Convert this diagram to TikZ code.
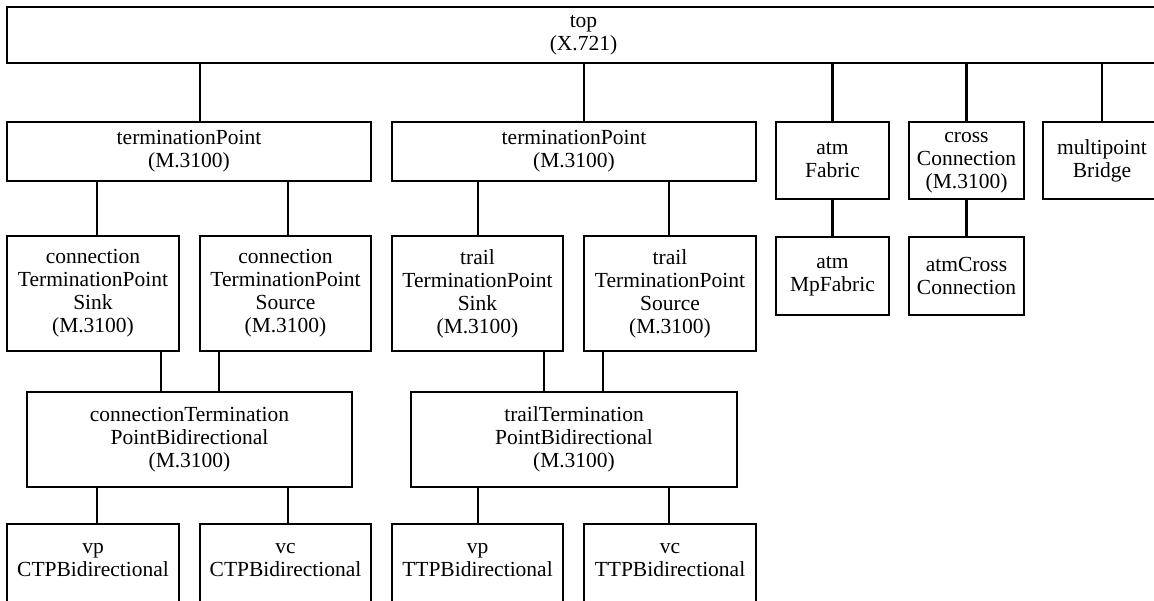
\documentclass[tikz,border=0pt]{standalone}
\usepackage{fontspec}
\setmainfont{Liberation Serif}
\begin{document}
\begin{tikzpicture}[x=1pt,y=-1pt,
  box/.style={draw=black, line width=2.9pt, rectangle, inner sep=0pt,
    align=center, font=\fontsize{21.5}{23}\selectfont},
  link/.style={draw=black, line width=2.9pt}]
\useasboundingbox (0,0) rectangle (1154,601);
\clip (0,0) rectangle (1154,601);

% root class
\node[box, minimum width=1153, minimum height=56] (top) at (583.5,35) {top\\(X.721)};

% second level
\node[box, minimum width=364, minimum height=59] (tpa) at (189,151.5) {terminationPoint\\(M.3100)};
\node[box, minimum width=364, minimum height=59] (tpb) at (574,151.5) {terminationPoint\\(M.3100)};
\node[box, minimum width=113, minimum height=77] (fab) at (832.5,160.5) {atm\\Fabric};
\node[box, minimum width=115, minimum height=77, label={[box,draw=none,yshift=-2pt]center:cross\\Connection\\(M.3100)}] (xc) at (966.5,160.5) {};
\node[box, minimum width=118, minimum height=77] (mpb) at (1102,160.5) {multipoint\\Bridge};

% third level
\node[box, minimum width=172, minimum height=115] (ctpk) at (93,293.5) {connection\\TerminationPoint\\Sink\\(M.3100)};
\node[box, minimum width=171, minimum height=115] (ctpo) at (285.5,293.5) {connection\\TerminationPoint\\Source\\(M.3100)};
\node[box, minimum width=171, minimum height=115] (ttpk) at (477.5,293.5) {trail\\TerminationPoint\\Sink\\(M.3100)};
\node[box, minimum width=172, minimum height=115] (ttpo) at (670,293.5) {trail\\TerminationPoint\\Source\\(M.3100)};
\node[box, minimum width=113, minimum height=78] (mpfab) at (832.5,276) {atm\\MpFabric};
\node[box, minimum width=115, minimum height=78] (axc) at (966.5,276) {atmCross\\Connection};

% bidirectional classes
\node[box, minimum width=325, minimum height=95] (ctpbi) at (189.5,439.5) {connectionTermination\\PointBidirectional\\(M.3100)};
\node[box, minimum width=326, minimum height=95] (ttpbi) at (574,439.5) {trailTermination\\PointBidirectional\\(M.3100)};

% leaf classes
\node[box, minimum width=172, minimum height=80, label={[box,draw=none,yshift=4pt]center:vp\\CTPBidirectional}] (vpctp) at (93,564) {};
\node[box, minimum width=171, minimum height=80, label={[box,draw=none,yshift=4pt]center:vc\\CTPBidirectional}] (vcctp) at (285.5,564) {};
\node[box, minimum width=171, minimum height=80, label={[box,draw=none,yshift=4pt]center:vp\\TTPBidirectional}] (vpttp) at (477.5,564) {};
\node[box, minimum width=172, minimum height=80, label={[box,draw=none,yshift=4pt]center:vc\\TTPBidirectional}] (vcttp) at (670,564) {};

% inheritance links
\draw[link] ([xshift=11pt]tpa.north) -- ([xshift=11pt]tpa.north |- top.south);
\draw[link] ([xshift=10pt]tpb.north) -- ([xshift=10pt]tpb.north |- top.south);
\draw[link] (fab.north) -- (fab.north |- top.south);
\draw[link] (xc.north) -- (xc.north |- top.south);
\draw[link] (mpb.north) -- (mpb.north |- top.south);

\draw[link] ([xshift=4pt]ctpk.north) -- ([xshift=4pt]ctpk.north |- tpa.south);
\draw[link] ([xshift=2.5pt]ctpo.north) -- ([xshift=2.5pt]ctpo.north |- tpa.south);
\draw[link] ([xshift=0.5pt]ttpk.north) -- ([xshift=0.5pt]ttpk.north |- tpb.south);
\draw[link] ([xshift=-1pt]ttpo.north) -- ([xshift=-1pt]ttpo.north |- tpb.south);
\draw[link] (mpfab.north) -- (fab.south);
\draw[link] (axc.north) -- (xc.south);

\draw[link] ([xshift=68pt]ctpk.south) -- ([xshift=68pt]ctpk.south |- ctpbi.north);
\draw[link] ([xshift=-66.5pt]ctpo.south) -- ([xshift=-66.5pt]ctpo.south |- ctpbi.north);
\draw[link] ([xshift=66.5pt]ttpk.south) -- ([xshift=66.5pt]ttpk.south |- ttpbi.north);
\draw[link] ([xshift=-67pt]ttpo.south) -- ([xshift=-67pt]ttpo.south |- ttpbi.north);

\draw[link] ([xshift=4pt]vpctp.north) -- ([xshift=4pt]vpctp.north |- ctpbi.south);
\draw[link] ([xshift=2.5pt]vcctp.north) -- ([xshift=2.5pt]vcctp.north |- ctpbi.south);
\draw[link] ([xshift=0.5pt]vpttp.north) -- ([xshift=0.5pt]vpttp.north |- ttpbi.south);
\draw[link] ([xshift=-1pt]vcttp.north) -- ([xshift=-1pt]vcttp.north |- ttpbi.south);
\end{tikzpicture}
\end{document}
